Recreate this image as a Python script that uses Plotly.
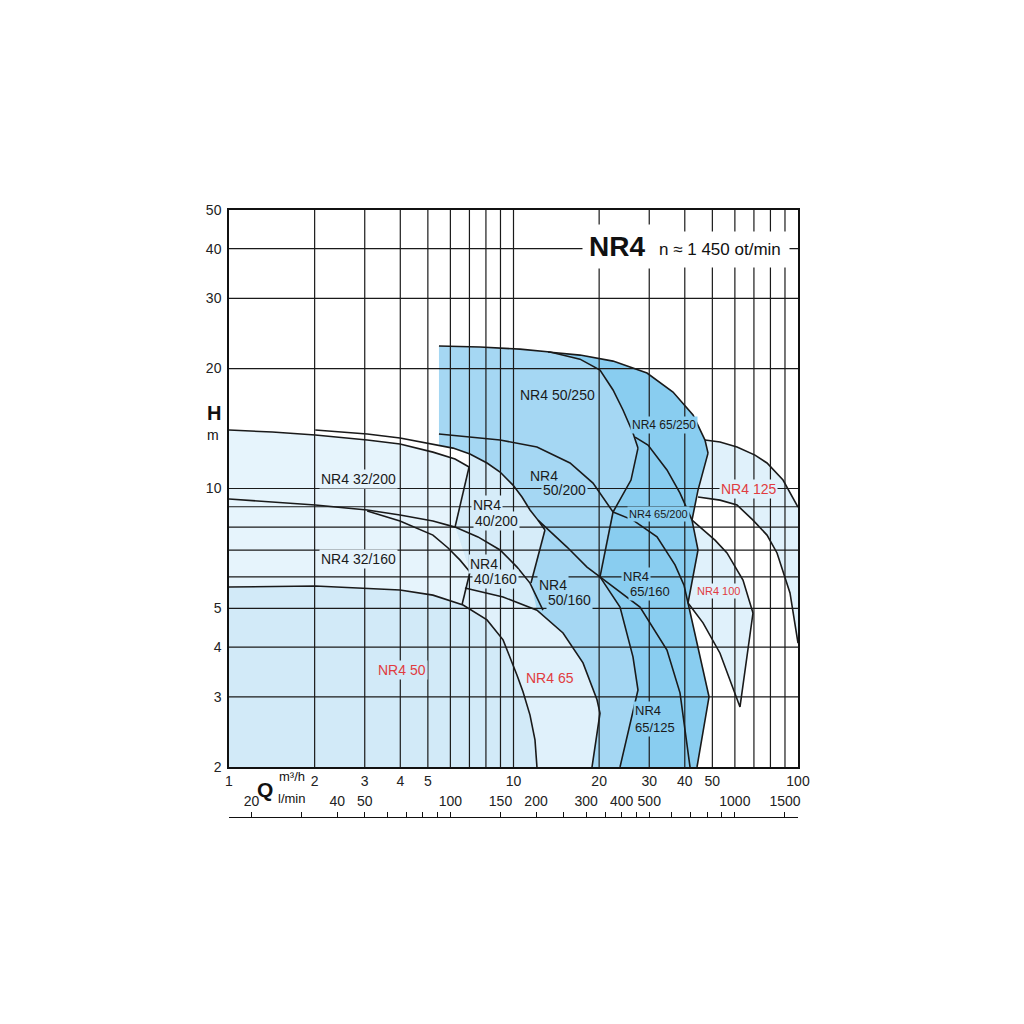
import numpy as np
import plotly.graph_objects as go

# ---------------- ticks ----------------
q_ticks = [1, 2, 3, 4, 5, 10, 20, 30, 40, 50, 100]
h_ticks = [2, 3, 4, 5, 10, 20, 30, 40, 50]
q_grid = [2, 3, 4, 5, 6, 7, 8, 9, 10, 20, 30, 40, 50, 60, 70, 80, 90]
h_grid = [3, 4, 5, 6, 7, 8, 9, 10, 20, 30, 40]
lmin_labels = [20, 40, 50, 100, 150, 200, 300, 400, 500, 1000, 1500]
lmin_minor = [30, 60, 70, 80, 90, 250, 350, 450, 600, 700, 800, 900]

# ---------------- curves (Q m3/h, H m) ----------------
c1_q = [1.00, 1.42, 2.01, 3.06, 3.99, 5.21, 6.23, 6.98]          # 32/200 top
c1_h = [14.02, 13.86, 13.62, 13.23, 12.93, 12.34, 11.86, 11.32]
c2_q = [2.01, 3.06, 3.99, 5.21, 6.13, 7.03, 8.07, 8.97, 9.96, 10.71, 11.43, 12.19, 12.90]  # 40/200 top
c2_h = [14.02, 13.70, 13.39, 12.93, 12.63, 12.20, 11.59, 11.00, 10.20, 9.52, 8.83, 8.33, 7.87]
c3_q = [6.98, 6.23]                                                # 32/200 right edge
c3_h = [11.32, 8.00]
c4_q = [1.00, 2.01, 3.06, 3.99, 5.21, 6.23, 7.50, 8.97, 10.29, 11.43, 12.69]  # 32/200-40/200 bottom
c4_h = [9.41, 9.09, 8.83, 8.58, 8.29, 8.00, 7.56, 7.01, 6.35, 5.79, 4.95]
c5_q = [3.06, 3.99, 5.21, 5.89, 6.49, 7.03]                        # 32/160 top
c5_h = [8.78, 8.29, 7.64, 7.09, 6.61, 6.17]
c6_q = [7.03, 6.59]                                                # 32/160 right edge
c6_h = [6.17, 5.10]
c7_q = [1.00, 2.01, 3.99, 5.21, 6.65, 8.07, 9.19, 9.72, 10.29, 10.80, 11.43, 11.90, 12.09]  # NR4 50
c7_h = [5.66, 5.69, 5.56, 5.40, 5.10, 4.68, 4.17, 3.78, 3.40, 3.09, 2.70, 2.34, 2.00]
c8_q = [6.75, 9.19, 12.09, 14.93, 17.55, 19.66, 20.14, 18.88]      # NR4 65
c8_h = [5.63, 5.34, 4.95, 4.34, 3.65, 2.95, 2.73, 2.00]
c9_q = [12.90, 11.52]                                              # 40/200 right edge
c9_h = [7.87, 5.79]
c10_q = [5.47, 7.63, 10.54, 13.44, 17.13, 20.14, 22.38, 24.26, 26.30, 27.39]  # 50/250 top
c10_h = [22.78, 22.65, 22.38, 22.00, 21.12, 19.83, 17.67, 15.74, 13.78, 12.63]
c11_q = [5.47, 5.47]                                               # 50/250 left edge
c11_h = [22.78, 12.85]
c12_q = [5.47, 8.97, 12.09, 15.80, 19.03, 22.38]                   # 50/250 bottom
c12_h = [13.70, 13.23, 12.71, 11.59, 10.32, 8.73]
c13_q = [27.39, 25.88, 22.38]                                      # 50/250 right edge
c13_h = [12.63, 10.50, 8.73]
c14_q = [13.22, 17.13, 22.38, 29.46, 36.36, 42.76, 47.11, 48.28]   # 65/250 top
c14_h = [22.00, 21.62, 20.88, 19.49, 17.46, 15.29, 13.23, 12.27]
c15_q = [48.28, 44.52, 42.41, 44.52, 41.06, 48.67, 44.16]          # 65 series right edge
c15_h = [12.27, 9.91, 8.33, 7.01, 5.16, 3.00, 2.00]
c16_q = [26.74, 29.70, 34.63, 38.48, 42.41]                        # 65/250 bottom
c16_h = [13.46, 12.85, 11.13, 9.74, 8.33]
c17_q = [22.38, 26.30, 31.95, 36.96, 39.75, 41.06]                 # 65/200 bottom
c17_h = [8.73, 8.33, 7.56, 6.43, 5.72, 5.16]
c20_q = [47.11, 53.19, 61.04, 70.61, 77.81, 88.58, 100.0]          # NR4 125 top
c20_h = [13.23, 13.08, 12.71, 12.13, 11.59, 10.50, 8.98]
c21_q = [44.52, 53.19, 61.04, 69.47, 77.81, 84.38, 93.73, 100.0]   # NR4 125 bottom
c21_h = [9.52, 9.35, 9.09, 8.33, 7.64, 6.89, 5.47, 4.09]
c22_q = [42.41, 46.36, 51.09, 56.29, 64.07, 69.47]                 # NR4 100 top
c22_h = [8.33, 7.87, 7.42, 6.89, 5.89, 4.87]
c23_q = [69.47, 62.53, 53.19, 46.36, 41.06]                        # NR4 100 edge/bottom
c23_h = [4.87, 2.83, 3.86, 4.60, 5.16]
c24_q = [12.19, 15.42, 18.13, 20.14]                               # 50/200 bottom
c24_h = [8.33, 7.13, 6.35, 6.00]
c25_q = [22.38, 20.14]                                             # 50/200 right edge
c25_h = [8.73, 6.00]
c26_q = [20.14, 23.68, 26.30, 27.39, 23.68]                        # 50/160 right edge
c26_h = [6.00, 5.04, 3.78, 3.12, 2.00]
c27_q = [20.14, 27.84, 34.63, 38.48, 41.73]                        # 65/125 top
c27_h = [6.00, 5.04, 3.93, 3.07, 2.00]

# ---------------- labels ----------------
label_text = ["NR4 32/200", "NR4 32/160", "NR4", "40/200", "NR4", "40/160", "NR4 50/250",
              "NR4", "50/200", "NR4 65/250", "NR4 65/200", "NR4", "50/160", "NR4", "65/160",
              "NR4", "65/125", "NR4 50", "NR4 65", "NR4 100", "NR4 125"]
label_q = [2.86, 2.86, 8.07, 8.68, 7.88, 8.61, 14.22, 12.80, 15.05, 33.81, 32.21, 13.77, 15.67,
           26.96, 30.19, 29.70, 31.44, 4.06, 13.44, 52.34, 66.72]
label_h = [10.56, 6.65, 9.09, 8.29, 6.46, 5.93, 17.16, 10.75, 9.91, 14.43, 8.63, 5.72, 5.25,
           6.03, 5.50, 2.78, 2.52, 3.50, 3.34, 5.53, 9.97]
label_group = ["p32", "p32", "p40", "p40", "p40", "p40", "med", "med", "med", "dark", "dark",
               "med", "med", "dark", "dark", "dark", "dark", "p50", "p65", "p100", "p125"]

# ---------------- styles ----------------
FILL = {"p32": "#e6f4fc", "p50": "#d2eaf8", "p65": "#e0f1fb", "p40": "#d6ecf9",
        "p125": "#e0f1fb", "p100": "#e0f1fb", "med": "#a5d7f3", "dark": "#89cdf0"}
RED = "#e03c40"
INK = "#1a1a1a"
FONT = "Liberation Sans, Arial, sans-serif"
label_size = [14, 14, 14, 14, 14, 14, 14, 14, 14, 12, 11, 14, 14, 13, 13, 13, 13, 14, 14, 11, 14]
red_groups = {"p50", "p65", "p100", "p125"}

# ---------------- polygons built from curves ----------------
def poly(*parts):
    qs, hs = [], []
    for q, h in parts:
        qs += list(q)
        hs += list(h)
    return qs + [qs[0]], hs + [hs[0]]

P = {}
P["p32"] = poly((c1_q, c1_h), (c3_q[1:], c3_h[1:]), (c6_q, c6_h), (c7_q[4::-1], c7_h[4::-1]))
P["p50"] = poly((c7_q, c7_h), ([c7_q[0]], [c7_h[-1]]))
P["p65"] = poly((c8_q, c8_h), (c7_q[12:3:-1], c7_h[12:3:-1]))
P["p40"] = poly((c3_q[:1], c3_h[:1]), (c2_q[5:], c2_h[5:]), (c9_q[1:], c9_h[1:]),
                (c4_q[-1:], c4_h[-1:]), (c8_q[2::-1], c8_h[2::-1]), (c6_q[:1], c6_h[:1]),
                (c3_q[1:], c3_h[1:]))
P["p125"] = poly((c20_q, c20_h), (c21_q[::-1], c21_h[::-1]))
P["p100"] = poly((c22_q, c22_h), (c23_q[1:], c23_h[1:]))
P["med"] = poly((c10_q, c10_h), (c13_q[1:], c13_h[1:]), (c25_q[1:], c25_h[1:]),
                (c26_q[1:], c26_h[1:]), (c8_q[7:1:-1], c8_h[7:1:-1]),
                (c9_q[::-1], c9_h[::-1]), (c2_q[11:3:-1], c2_h[11:3:-1]),
                (c11_q[::-1], c11_h[::-1]))
P["dark"] = poly((c14_q, c14_h), (c15_q[1:], c15_h[1:]), (c26_q[::-1], c26_h[::-1]),
                 (c13_q[::-1], c13_h[::-1]), (c10_q[8:2:-1], c10_h[8:2:-1]))

fig = go.Figure()
for key in ["p32", "p50", "p65", "p40", "p125", "p100", "med", "dark"]:
    q, h = P[key]
    fig.add_trace(go.Scatter(x=q, y=h, mode="lines", fill="toself", fillcolor=FILL[key],
                             line=dict(width=0, color=FILL[key]), hoverinfo="skip",
                             showlegend=False))

# grid lines on top of the fills
gx, gy = [], []
for q in q_grid:
    gx += [q, q, None]
    gy += [h_ticks[0], h_ticks[-1], None]
for h in h_grid:
    gx += [q_ticks[0], q_ticks[-1], None]
    gy += [h, h, None]
fig.add_trace(go.Scatter(x=gx, y=gy, mode="lines", line=dict(color=INK, width=1.2),
                         hoverinfo="skip", showlegend=False))

curves = [(c1_q, c1_h), (c2_q, c2_h), (c3_q, c3_h), (c4_q, c4_h), (c5_q, c5_h), (c6_q, c6_h),
          (c7_q, c7_h), (c8_q, c8_h), (c9_q, c9_h), (c10_q, c10_h), (c12_q, c12_h),
          (c13_q, c13_h), (c14_q, c14_h), (c15_q, c15_h), (c16_q, c16_h), (c17_q, c17_h),
          (c20_q, c20_h), (c21_q, c21_h), (c22_q, c22_h), (c23_q, c23_h), (c24_q, c24_h),
          (c25_q, c25_h), (c26_q, c26_h), (c27_q, c27_h)]
for q, h in curves:
    fig.add_trace(go.Scatter(x=q, y=h, mode="lines", line=dict(color=INK, width=1.6),
                             hoverinfo="skip", showlegend=False))

# invisible trace to carry the l/min axis
fig.add_trace(go.Scatter(x=[lmin_labels[0], lmin_labels[-1]], y=[3, 3], xaxis="x2", yaxis="y",
                         mode="markers", marker=dict(opacity=0), hoverinfo="skip",
                         showlegend=False))

# region labels
for t, q, h, g, s in zip(label_text, label_q, label_h, label_group, label_size):
    fig.add_annotation(x=np.log10(q), y=np.log10(h), xref="x", yref="y", text=t,
                       showarrow=False, bgcolor=FILL[g], borderpad=1,
                       font=dict(family=FONT, size=s, color=RED if g in red_groups else INK))

# title block
fig.add_annotation(x=np.log10(23.1), y=np.log10(40.4), text="<b>NR4</b>", showarrow=False,
                   bgcolor="white", borderpad=6, font=dict(family=FONT, size=28, color="#111"))
fig.add_annotation(x=np.log10(53.2), y=np.log10(39.7), text="n \u2248 1 450 ot/min",
                   showarrow=False, bgcolor="white", borderpad=8,
                   font=dict(family=FONT, size=17, color="#111"))

# axis titles (paper coordinates; outside the data range)
ax_titles = [("<b>H</b>", -0.0264, 0.6656, 20), ("m", -0.0281, 0.6293, 14),
             ("<b>Q</b>", 0.0633, 0.0461, 21), ("m\u00b3/h", 0.1107, 0.0660, 13),
             ("l/min", 0.1090, 0.0313, 13)]
for t, px, py, s in ax_titles:
    fig.add_annotation(x=px, y=py, xref="paper", yref="paper", text=t, showarrow=False,
                       xanchor="center", yanchor="middle",
                       font=dict(family=FONT, size=s, color="#111"))

# page offset of the plot (the html body adds an 8 px margin)
offset = 8
plot_left, plot_right = 229 - offset, 798 - offset
plot_top, plot_bottom, axis2_y = 210 - offset, 767 - offset, 817 - offset
dom0 = (axis2_y - plot_bottom) / (axis2_y - plot_top)

fig.update_layout(
    width=1024, height=1024, autosize=False,
    margin=dict(l=plot_left, r=1024 - plot_right, t=plot_top, b=1024 - axis2_y, pad=0),
    paper_bgcolor="white", plot_bgcolor="white",
    font=dict(family=FONT, size=14, color="#222"),
    xaxis=dict(type="log", range=[0, 2], showgrid=False, zeroline=False, showline=True,
               linecolor="#111", linewidth=2, mirror=True, ticks="", tickvals=q_ticks,
               ticktext=[str(v) for v in q_ticks], tickfont=dict(size=14, color="#222"),
               anchor="y", ticklabelstandoff=0),
    yaxis=dict(type="log", range=[np.log10(h_ticks[0]), np.log10(h_ticks[-1])],
               domain=[dom0, 1], showgrid=False, zeroline=False, showline=True,
               linecolor="#111", linewidth=1.5, mirror=True, ticks="", tickvals=h_ticks,
               ticktext=[str(v) for v in h_ticks], tickfont=dict(size=14, color="#222"),
               ticklabelstandoff=3),
    xaxis2=dict(type="log", range=[np.log10(1000 / 60), np.log10(100000 / 60)],
                anchor="free", position=0, overlaying="x", side="top", showgrid=False,
                zeroline=False, showline=True, linecolor="#111", linewidth=1.2,
                ticks="outside", ticklen=5, tickwidth=1, tickcolor="#111",
                tickvals=lmin_labels, ticktext=[str(v) for v in lmin_labels],
                minor=dict(tickvals=lmin_minor, ticks="outside", ticklen=5, tickwidth=1,
                           tickcolor="#111", showgrid=False),
                tickfont=dict(size=14, color="#222")),
    showlegend=False,
)

fig.write_html("out.html")
